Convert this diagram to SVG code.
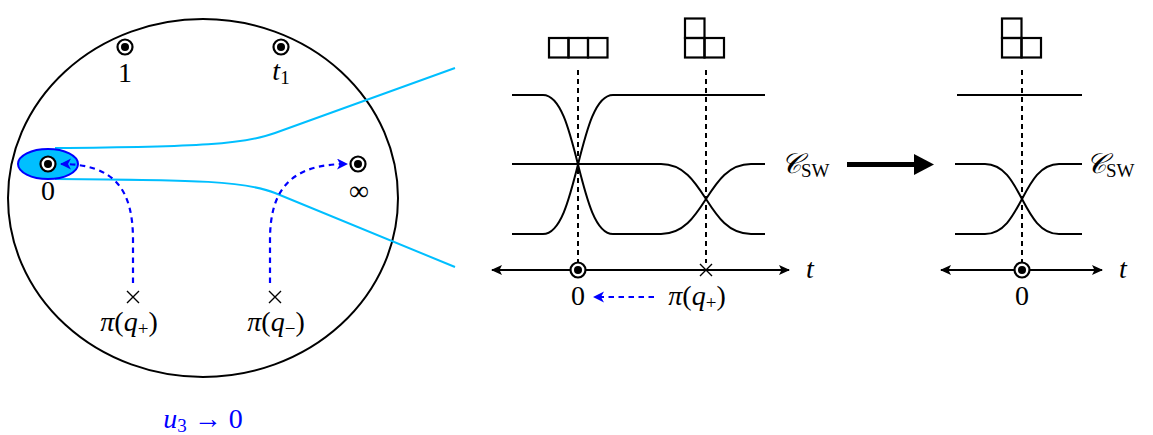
<svg xmlns="http://www.w3.org/2000/svg" width="1153" height="435" viewBox="0 0 1153 435">
<style>
text{font-family:"Liberation Serif","DejaVu Serif",serif;font-size:28px;fill:#000}
.it{font-style:italic}
.sub{font-size:19px}
.blk{fill:none;stroke:#000;stroke-width:2}
.dash{fill:none;stroke:#000;stroke-width:2;stroke-dasharray:5,4}
.bdash{fill:none;stroke:#0000ff;stroke-width:2.2;stroke-dasharray:5.5,4.5}
.cyan{fill:none;stroke:#00bfff;stroke-width:2}
.box{fill:none;stroke:#000;stroke-width:2.2}
.ring{fill:#fff;stroke:#000;stroke-width:2.2}
</style>
<defs>
<marker id="bhead" markerUnits="userSpaceOnUse" markerWidth="14" markerHeight="14" refX="10" refY="5.5" orient="auto">
<path d="M0,0 L11,5.5 L0,11 L3,5.5 z" fill="#0000ff"/>
</marker>
<marker id="khead" markerUnits="userSpaceOnUse" markerWidth="14" markerHeight="14" refX="10" refY="5.5" orient="auto-start-reverse">
<path d="M0,0.5 L11,5.5 L0,10.5 L2.5,5.5 z" fill="#000"/>
</marker>
<g id="pt"><circle r="7.5" class="ring"/><circle r="4" fill="#000"/></g>
<g id="cross"><path d="M-6,-6 L6,6 M-6,6 L6,-6" stroke="#000" stroke-width="1.4"/></g>
</defs>

<g id="disk">
<ellipse cx="203" cy="198" rx="195" ry="179" class="blk"/>
</g>

<g id="cyan-curves">
<path class="cyan" d="M55,148 C200,147 245,144 275,133 L455,68"/>
<path class="cyan" d="M55,179 C200,180 245,181 275,193 L455,267"/>
</g>

<g id="node-zero">
<ellipse cx="48" cy="164" rx="30" ry="15" fill="#00bfff" stroke="#0000ff" stroke-width="2"/>
<use href="#pt" x="48" y="164"/>
<text x="48" y="200" text-anchor="middle">0</text>
</g>
<g id="node-one">
<use href="#pt" x="125" y="47"/>
<text x="125" y="82" text-anchor="middle">1</text>
</g>
<g id="node-t1">
<use href="#pt" x="281" y="47"/>
<text x="281" y="80" text-anchor="middle"><tspan class="it">t</tspan><tspan class="sub" dy="4">1</tspan></text>
</g>
<g id="node-inf">
<use href="#pt" x="358" y="164"/>
<text x="359" y="200" text-anchor="middle" font-size="42">∞</text>
</g>
<g id="node-qplus">
<use href="#cross" x="133" y="297"/>
<text x="129" y="331" text-anchor="middle"><tspan class="it">π</tspan>(<tspan class="it">q</tspan><tspan class="sub" dy="4">+</tspan><tspan dy="-4">)</tspan></text>
</g>
<g id="node-qminus">
<use href="#cross" x="275" y="297"/>
<text x="276" y="331" text-anchor="middle"><tspan class="it">π</tspan>(<tspan class="it">q</tspan><tspan class="sub" dy="4">−</tspan><tspan dy="-4">)</tspan></text>
</g>
<g id="label-u3">
<text x="203" y="428" text-anchor="middle" style="fill:#0000ff"><tspan class="it">u</tspan><tspan class="sub" dy="4">3</tspan><tspan dy="-4"> → 0</tspan></text>
</g>

<g id="middle-panel">
<g id="yd-row">
<rect x="549" y="38" width="19.5" height="19.5" class="box"/>
<rect x="568.5" y="38" width="19.5" height="19.5" class="box"/>
<rect x="588" y="38" width="19.5" height="19.5" class="box"/>
</g>
<g id="yd-L1">
<rect x="685" y="18.5" width="19.5" height="19.5" class="box"/>
<rect x="685" y="38" width="19.5" height="19.5" class="box"/>
<rect x="704.5" y="38" width="19.5" height="19.5" class="box"/>
</g>
<path class="dash" d="M578,70 V263 M706,70 V263"/>
<path class="blk" d="M512,95 H543 C578,95 578,234 613,234 H661 C706,234 706,164 751,164 H765"/>
<path class="blk" d="M512,234 H543 C578,234 578,95 613,95 H765"/>
<path class="blk" d="M512,164 H661 C706,164 706,234 751,234 H765"/>
<line x1="492" y1="270" x2="789" y2="270" stroke="#000" stroke-width="2" marker-start="url(#khead)" marker-end="url(#khead)"/>
<use href="#pt" x="578" y="270"/>
<use href="#cross" x="706" y="270"/>
<text x="810" y="278" class="it" text-anchor="middle">t</text>
<text x="578" y="305" text-anchor="middle">0</text>
<text x="697" y="305" text-anchor="middle"><tspan class="it">π</tspan>(<tspan class="it">q</tspan><tspan class="sub" dy="4">+</tspan><tspan dy="-4">)</tspan></text>
<text x="781" y="173"><tspan class="it">𝒞</tspan><tspan class="sub" dy="4">SW</tspan></text>
</g>

<g id="right-panel">
<g id="yd-L2">
<rect x="1002" y="18.5" width="19.5" height="19.5" class="box"/>
<rect x="1002" y="38" width="19.5" height="19.5" class="box"/>
<rect x="1021.5" y="38" width="19.5" height="19.5" class="box"/>
</g>
<path class="dash" d="M1022,70 V263"/>
<path class="blk" d="M957,95 H1082"/>
<path class="blk" d="M955,164 H985 C1022,164 1022,234 1059,234 H1082"/>
<path class="blk" d="M955,234 H985 C1022,234 1022,164 1059,164 H1082"/>
<line x1="941" y1="270" x2="1102" y2="270" stroke="#000" stroke-width="2" marker-start="url(#khead)" marker-end="url(#khead)"/>
<use href="#pt" x="1022" y="270"/>
<text x="1123" y="278" class="it" text-anchor="middle">t</text>
<text x="1022" y="305" text-anchor="middle">0</text>
<text x="1086" y="173"><tspan class="it">𝒞</tspan><tspan class="sub" dy="4">SW</tspan></text>
</g>

<g id="connectors">
<path class="bdash" d="M133,283 L133,240 C133,190 115,164 61,164" marker-end="url(#bhead)"/>
<path class="bdash" d="M270,283 L270,240 C270,190 290,164 347,164" marker-end="url(#bhead)"/>
<path class="bdash" d="M654,297 L594,297" marker-end="url(#bhead)"/>
<line x1="847" y1="164.5" x2="917" y2="164.5" stroke="#000" stroke-width="5"/>
<path d="M914,154 L934,164.5 L914,175 z" fill="#000"/>
</g>
</svg>
